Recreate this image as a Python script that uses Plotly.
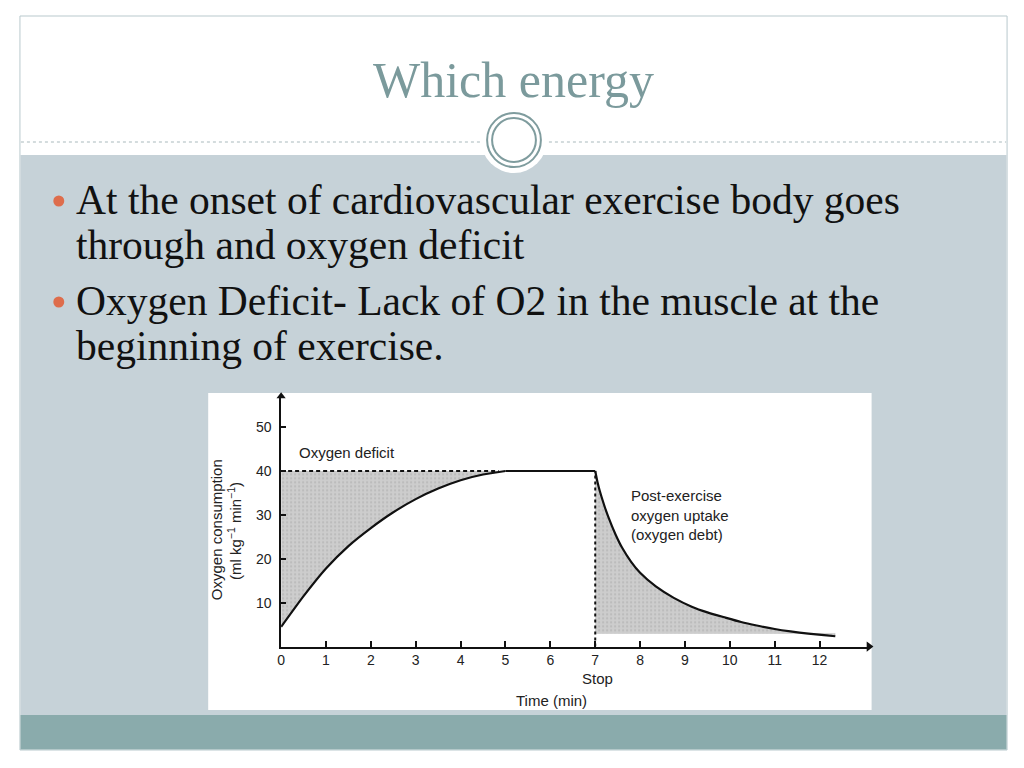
import plotly.graph_objects as go

W, H = 1024, 768

# ---- data ----
rise_t = [0, 0.5, 1, 1.5, 2, 2.5, 3, 3.5, 4, 4.5, 5]
rise_v = [4.5, 11.5, 17.8, 22.9, 27.0, 30.6, 33.6, 36.0, 37.9, 39.2, 40]
plateau_t = [5, 7]
plateau_v = [40, 40]
decay_t = [7, 7.05, 7.1, 7.2, 7.3, 7.45, 7.6, 7.8, 8.0, 8.35, 8.75, 9.15, 9.5,
           9.9, 10.25, 10.6, 11.0, 11.35, 11.75, 12.1, 12.35]
decay_v = [40, 37.5, 35.5, 32.2, 29.3, 25.6, 22.5, 19.3, 16.8, 13.7, 11.1, 9.1, 7.8,
           6.6, 5.6, 4.8, 4.0, 3.45, 2.95, 2.6, 2.35]
steady_level = 40
debt_floor = 3.0
stop_time = 7
deficit_dash_end = 4.85
x_ticks = list(range(0, 13))
y_ticks = [10, 20, 30, 40, 50]
x_max = 13.1
y_max = 57

title_text = "Which energy"
bullets = [
    ["At the onset of cardiovascular exercise body goes", "through and oxygen deficit"],
    ["Oxygen Deficit- Lack of O2 in the muscle at the", "beginning of exercise."],
]


def px(x):
    return x / W


def py(y):
    return 1 - y / H


SERIF = "Liberation Serif"
SANS = "Liberation Sans, Arial, sans-serif"
INK = "#111"
pattern = dict(shape=".", fgcolor="#a8a8a8", bgcolor="#cdcdcd", size=4, solidity=0.25)

fig = go.Figure()

# deficit fill (between steady level and rising curve)
fig.add_trace(go.Scatter(x=rise_t, y=[steady_level] * len(rise_t), mode="lines",
                         line=dict(width=0), hoverinfo="skip", showlegend=False))
fig.add_trace(go.Scatter(x=rise_t, y=rise_v, mode="lines", line=dict(width=0, shape="spline", smoothing=0.6),
                         fill="tonexty", fillcolor="#c9c9c9", fillpattern=pattern,
                         hoverinfo="skip", showlegend=False))
# debt fill
fig.add_trace(go.Scatter(x=decay_t, y=[debt_floor] * len(decay_t), mode="lines",
                         line=dict(width=0.6, color="#c4c4c4"), hoverinfo="skip", showlegend=False))
fig.add_trace(go.Scatter(x=decay_t, y=decay_v, mode="lines", line=dict(width=0, shape="spline", smoothing=0.6),
                         fill="tonexty", fillcolor="#c9c9c9", fillpattern=pattern,
                         hoverinfo="skip", showlegend=False))
# dashed lines
fig.add_trace(go.Scatter(x=[0, deficit_dash_end], y=[steady_level, steady_level], mode="lines",
                         line=dict(color=INK, width=2, dash="4px,3px"),
                         hoverinfo="skip", showlegend=False))
fig.add_trace(go.Scatter(x=[stop_time, stop_time], y=[0, steady_level], mode="lines",
                         line=dict(color=INK, width=2, dash="3px,3px"),
                         hoverinfo="skip", showlegend=False))
# main curve: rise, plateau, recovery
fig.add_trace(go.Scatter(x=rise_t, y=rise_v, mode="lines",
                         line=dict(color=INK, width=2.2, shape="spline", smoothing=0.6),
                         hoverinfo="skip", showlegend=False))
fig.add_trace(go.Scatter(x=plateau_t, y=plateau_v, mode="lines",
                         line=dict(color=INK, width=2.2), hoverinfo="skip", showlegend=False))
fig.add_trace(go.Scatter(x=decay_t, y=decay_v, mode="lines",
                         line=dict(color=INK, width=2.2, shape="spline", smoothing=0.6),
                         hoverinfo="skip", showlegend=False))
# axis arrowheads
fig.add_trace(go.Scatter(x=[x_max], y=[0], mode="markers", cliponaxis=False,
                         marker=dict(symbol="triangle-right", size=9, color=INK),
                         hoverinfo="skip", showlegend=False))
fig.add_trace(go.Scatter(x=[0], y=[y_max], mode="markers", cliponaxis=False,
                         marker=dict(symbol="triangle-up", size=8, color=INK),
                         hoverinfo="skip", showlegend=False))

shapes = []
# slide frame and background
shapes.append(dict(type="rect", xref="paper", yref="paper", x0=px(16), x1=px(1007), y0=py(750), y1=py(16),
                   fillcolor="white", line=dict(color="#b9c9cd", width=1), layer="below"))
shapes.append(dict(type="rect", xref="paper", yref="paper", x0=px(16.5), x1=px(1006.5), y0=py(715), y1=py(155),
                   fillcolor="#c6d2d8", line=dict(width=0), layer="below"))
shapes.append(dict(type="rect", xref="paper", yref="paper", x0=px(16.5), x1=px(1006.5), y0=py(749.5), y1=py(715),
                   fillcolor="#8aabac", line=dict(width=0), layer="below"))
# dotted divider
shapes.append(dict(type="line", xref="paper", yref="paper", x0=px(17), x1=px(1006), y0=py(142), y1=py(142),
                   line=dict(color="#a9b9bc", width=1, dash="dot"), layer="below"))
# circle ornament
shapes.append(dict(type="circle", xref="paper", yref="paper", x0=px(512 - 33), x1=px(512 + 33),
                   y0=py(140 + 33), y1=py(140 - 33), fillcolor="white", line=dict(width=0), layer="below"))
shapes.append(dict(type="circle", xref="paper", yref="paper", x0=px(512 - 27), x1=px(512 + 27),
                   y0=py(140 + 27), y1=py(140 - 27), fillcolor="white",
                   line=dict(color="#7f9c9e", width=2), layer="below"))
shapes.append(dict(type="circle", xref="paper", yref="paper", x0=px(512 - 22), x1=px(512 + 22),
                   y0=py(140 + 22), y1=py(140 - 22), fillcolor="white",
                   line=dict(color="#7f9c9e", width=2), layer="below"))
# chart panel
shapes.append(dict(type="rect", xref="paper", yref="paper", x0=px(205), x1=px(871), y0=py(710), y1=py(393),
                   fillcolor="white", line=dict(width=0), layer="below"))
# bullet dots
for cy in [201, 302]:
    shapes.append(dict(type="circle", xref="paper", yref="paper", x0=px(55 - 5.5), x1=px(55 + 5.5),
                       y0=py(cy + 5.5), y1=py(cy - 5.5), fillcolor="#de6d4c", line=dict(width=0),
                       layer="above"))

ann = []
ann.append(dict(text=title_text, x=px(511), y=py(80), xref="paper", yref="paper", showarrow=False,
                xanchor="center", yanchor="middle", font=dict(family=SERIF, size=50, color="#7b9a9c")))
line_y = [[200, 245], [301, 346]]
for lines, ys in zip(bullets, line_y):
    for t, yy in zip(lines, ys):
        ann.append(dict(text=t, x=px(70), y=py(yy), xref="paper", yref="paper", showarrow=False,
                        xanchor="left", yanchor="middle", font=dict(family=SERIF, size=41.5, color="#111")))

cfont = dict(family=SANS, size=15, color="#222")
ann.append(dict(text="Oxygen deficit", x=px(294), y=py(452), xref="paper", yref="paper", showarrow=False,
                xanchor="left", yanchor="middle", font=cfont))
ann.append(dict(text="Post-exercise<br>oxygen uptake<br>(oxygen debt)", x=px(627), y=py(515), xref="paper",
                yref="paper", showarrow=False, xanchor="left", yanchor="middle", align="left", font=cfont))
ann.append(dict(text="Stop", x=px(596), y=py(678), xref="paper", yref="paper", showarrow=False,
                xanchor="center", yanchor="middle", font=cfont))
ann.append(dict(text="Time (min)", x=px(550), y=py(700), xref="paper", yref="paper", showarrow=False,
                xanchor="center", yanchor="middle", font=cfont))
ann.append(dict(text="Oxygen consumption", x=px(213), y=py(530), xref="paper", yref="paper", showarrow=False,
                xanchor="center", yanchor="middle", textangle=-90, font=cfont))
ann.append(dict(text="(ml kg<sup>−1</sup> min<sup>−1</sup>)", x=px(231), y=py(531), xref="paper", yref="paper",
                showarrow=False, xanchor="center", yanchor="middle", textangle=-90, font=cfont))

x0p, x1p = 278.2, 278.2 + x_max * 45.05
y0p, y1p = 646.6, 646.6 - y_max * 4.39

fig.update_layout(
    width=W, height=H, margin=dict(l=0, r=0, t=0, b=0),
    paper_bgcolor="white", plot_bgcolor="rgba(0,0,0,0)",
    shapes=shapes, annotations=ann, showlegend=False,
    xaxis=dict(domain=[px(x0p), px(x1p)], range=[0, x_max], tickvals=x_ticks, ticks="inside", ticklen=6,
               tickwidth=1.5, tickcolor=INK, showgrid=False, zeroline=False, showline=True,
               linecolor=INK, linewidth=1.5, ticklabelstandoff=0,
               tickfont=dict(family=SANS, size=14, color="#222"), fixedrange=True),
    yaxis=dict(domain=[py(y0p), py(y1p)], range=[0, y_max], tickvals=y_ticks, ticks="inside", ticklen=5,
               tickwidth=1.5, tickcolor=INK, showgrid=False, zeroline=False, showline=True,
               linecolor=INK, linewidth=1.5, ticklabelstandoff=5,
               tickfont=dict(family=SANS, size=14, color="#222"), fixedrange=True),
)

fig.write_html("out.html", config={"displayModeBar": False},
               post_script="document.body.style.margin='0';document.body.style.overflow='hidden';")
